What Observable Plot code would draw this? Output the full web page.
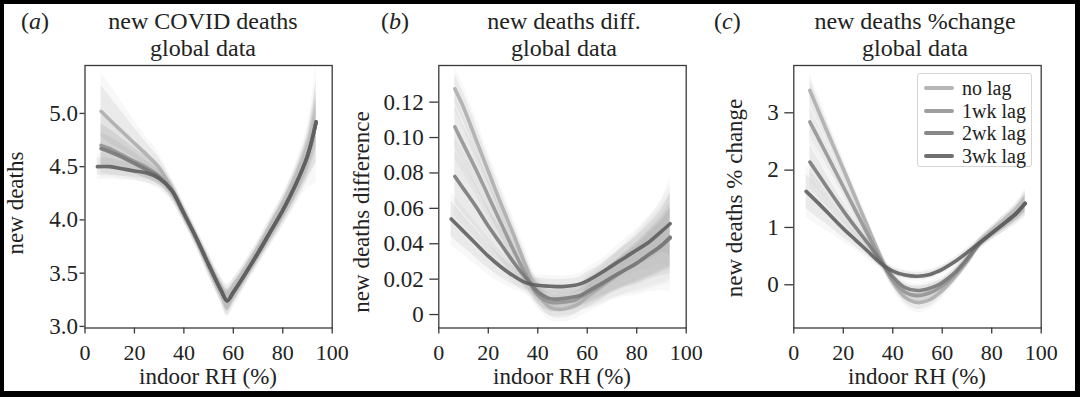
<!DOCTYPE html>
<html>
<head>
<meta charset="utf-8">
<script src="https://cdn.jsdelivr.net/npm/d3@7"></script>
<script src="https://cdn.jsdelivr.net/npm/@observablehq/plot@0.6"></script>
<style>
  html, body { margin: 0; padding: 0; background: #fff; }
  #wrap { position: relative; width: 1080px; height: 397px; background: #fff; overflow: hidden;
          font-family: 'Liberation Serif', 'Times New Roman', serif; color: #222; }
  .pane { position: absolute; top: 0; }
  .title { position: absolute; top: 8px; width: 320px; text-align: center; font-size: 24px; line-height: 27px; }
  .tag { position: absolute; top: 8px; font-size: 24px; line-height: 27px; }
  .xlab { position: absolute; top: 369px; width: 300px; text-align: center; font-size: 23px; line-height: 16px; }
  .ylab { position: absolute; width: 300px; text-align: center; font-size: 23px; line-height: 22px;
          transform: translate(-50%, -50%) rotate(-90deg); white-space: nowrap; }
  #legend { position: absolute; left: 917px; top: 73px; width: 115px; height: 94px; box-sizing: border-box;
            border: 1px solid #d4d4d4; border-radius: 3px; background: rgba(255,255,255,0.85); }
  .lrow { position: absolute; left: 0; height: 22px; width: 114px; }
  .lsw { position: absolute; left: 6px; top: 9px; width: 30px; height: 4px; border-radius: 2px; }
  .ltx { position: absolute; left: 44px; top: 0; font-size: 20px; line-height: 22px; white-space: nowrap; }
  #border { position: absolute; left: 0; top: 0; width: 1080px; height: 397px; box-sizing: border-box;
            border-style: solid; border-color: #000; border-width: 4px 5px 6px 4px; pointer-events: none; }
</style>
</head>
<body>
<div id="wrap"></div>
<script>
// ---------------- data ----------------
const lags = ["no lag", "1wk lag", "2wk lag", "3wk lag"];
const xTicks = [0, 20, 40, 60, 80, 100];
// indoor RH sample points (3wk lag series starts a little earlier)
const rh    = [6.5, 10, 15, 20, 25, 30, 35, 40, 45, 50, 55, 57.5, 60, 65, 70, 75, 80, 85, 90, 93.5];
const rh3wk = [5,   10, 15, 20, 25, 30, 35, 40, 45, 50, 55, 57.5, 60, 65, 70, 75, 80, 85, 90, 93.5];

// (a) new deaths
const aNoLag = [5.02, 4.94, 4.83, 4.72, 4.61, 4.49, 4.29, 4.07, 3.83, 3.58, 3.34, 3.25, 3.32, 3.50, 3.69, 3.89, 4.09, 4.32, 4.60, 4.92];
const a1wk   = [4.70, 4.67, 4.61, 4.55, 4.49, 4.41, 4.28, 4.06, 3.83, 3.58, 3.34, 3.24, 3.32, 3.50, 3.69, 3.89, 4.09, 4.32, 4.60, 4.92];
const a2wk   = [4.67, 4.64, 4.59, 4.53, 4.47, 4.40, 4.28, 4.06, 3.83, 3.58, 3.34, 3.24, 3.32, 3.50, 3.69, 3.89, 4.09, 4.32, 4.60, 4.92];
const a3wk   = [4.50, 4.50, 4.48, 4.46, 4.44, 4.39, 4.28, 4.06, 3.83, 3.58, 3.34, 3.24, 3.32, 3.50, 3.69, 3.89, 4.09, 4.32, 4.60, 4.92];
// band half-widths (a)
const aBandNoLag = [0.24, 0.22, 0.18, 0.14, 0.11, 0.09, 0.07, 0.06, 0.06, 0.07, 0.08, 0.10, 0.09, 0.08, 0.08, 0.09, 0.10, 0.13, 0.20, 0.38];
const aBand1wk   = [0.20, 0.18, 0.15, 0.12, 0.10, 0.08, 0.07, 0.06, 0.06, 0.07, 0.08, 0.10, 0.09, 0.08, 0.08, 0.09, 0.10, 0.12, 0.16, 0.26];
const aBand2wk   = [0.15, 0.14, 0.12, 0.10, 0.08, 0.07, 0.06, 0.06, 0.06, 0.07, 0.08, 0.09, 0.08, 0.07, 0.07, 0.08, 0.09, 0.11, 0.14, 0.20];
const aBand3wk   = [0.08, 0.08, 0.07, 0.06, 0.06, 0.05, 0.05, 0.05, 0.05, 0.06, 0.07, 0.08, 0.07, 0.06, 0.06, 0.07, 0.08, 0.10, 0.12, 0.15];

// (b) new deaths difference
const bNoLag = [0.1275, 0.117, 0.099, 0.081, 0.063, 0.046, 0.028, 0.012, 0.004, 0.003, 0.005, 0.007, 0.010, 0.015, 0.020, 0.025, 0.029, 0.034, 0.039, 0.043];
const b1wk   = [0.106, 0.096, 0.082, 0.067, 0.052, 0.037, 0.023, 0.011, 0.007, 0.007, 0.008, 0.010, 0.012, 0.016, 0.021, 0.025, 0.029, 0.034, 0.039, 0.0435];
const b2wk   = [0.078, 0.071, 0.061, 0.050, 0.040, 0.030, 0.021, 0.013, 0.009, 0.009, 0.010, 0.011, 0.013, 0.017, 0.021, 0.025, 0.029, 0.034, 0.039, 0.0437];
const b3wk   = [0.054, 0.047, 0.040, 0.033, 0.027, 0.022, 0.018, 0.0165, 0.016, 0.0158, 0.0165, 0.0175, 0.019, 0.023, 0.0275, 0.032, 0.0365, 0.041, 0.047, 0.0513];
const bBandNoLag = [0.008, 0.008, 0.008, 0.007, 0.007, 0.006, 0.006, 0.005, 0.005, 0.005, 0.005, 0.005, 0.006, 0.007, 0.008, 0.010, 0.012, 0.014, 0.017, 0.020];
const bBand1wk   = [0.012, 0.011, 0.010, 0.009, 0.008, 0.007, 0.006, 0.005, 0.005, 0.005, 0.005, 0.005, 0.006, 0.007, 0.008, 0.009, 0.011, 0.013, 0.015, 0.017];
const bBand2wk   = [0.015, 0.014, 0.012, 0.010, 0.009, 0.008, 0.006, 0.005, 0.005, 0.005, 0.005, 0.005, 0.006, 0.007, 0.008, 0.009, 0.010, 0.012, 0.014, 0.016];
const bBand3wk   = [0.010, 0.009, 0.008, 0.007, 0.006, 0.005, 0.004, 0.004, 0.004, 0.004, 0.004, 0.004, 0.005, 0.005, 0.006, 0.007, 0.008, 0.010, 0.012, 0.018];

// (c) new deaths % change
const cNoLag = [3.39, 3.03, 2.52, 2.02, 1.51, 1.00, 0.50, 0.05, -0.22, -0.31, -0.26, -0.19, -0.10, 0.13, 0.40, 0.71, 0.90, 1.07, 1.25, 1.42];
const c1wk   = [2.84, 2.55, 2.13, 1.71, 1.29, 0.87, 0.45, 0.08, -0.13, -0.19, -0.14, -0.09, -0.02, 0.18, 0.43, 0.71, 0.90, 1.07, 1.25, 1.42];
const c2wk   = [2.14, 1.92, 1.60, 1.29, 1.00, 0.72, 0.42, 0.14, -0.05, -0.10, -0.06, -0.02, 0.04, 0.21, 0.45, 0.72, 0.90, 1.07, 1.25, 1.42];
const c3wk   = [1.63, 1.42, 1.20, 0.98, 0.78, 0.58, 0.38, 0.24, 0.17, 0.15, 0.18, 0.22, 0.27, 0.40, 0.56, 0.73, 0.90, 1.07, 1.25, 1.42];
const cBandNoLag = [0.20, 0.18, 0.15, 0.13, 0.11, 0.10, 0.09, 0.09, 0.10, 0.12, 0.11, 0.10, 0.09, 0.08, 0.07, 0.07, 0.08, 0.10, 0.13, 0.17];
const cBand1wk   = [0.25, 0.22, 0.18, 0.15, 0.12, 0.10, 0.09, 0.08, 0.09, 0.10, 0.10, 0.09, 0.08, 0.07, 0.07, 0.07, 0.08, 0.10, 0.12, 0.15];
const cBand2wk   = [0.30, 0.26, 0.20, 0.16, 0.13, 0.10, 0.08, 0.08, 0.08, 0.08, 0.08, 0.08, 0.07, 0.07, 0.07, 0.07, 0.08, 0.09, 0.11, 0.14];
const cBand3wk   = [0.30, 0.26, 0.20, 0.16, 0.12, 0.09, 0.07, 0.06, 0.06, 0.06, 0.06, 0.06, 0.06, 0.06, 0.06, 0.07, 0.08, 0.09, 0.10, 0.12];

const aTicks = [3.0, 3.5, 4.0, 4.5, 5.0];
const bTicks = [0, 0.02, 0.04, 0.06, 0.08, 0.10, 0.12];
const cTicks = [0, 1, 2, 3];

// ---------------- styling ----------------
const lagColors = ["#acacac", "#929292", "#767676", "#5c5c5c"];
const FONT = "'Liberation Serif', 'Times New Roman', serif";

function buildRows(series, bands) {
  const rows = [];
  lags.forEach((lag, i) => {
    const xs = i === 3 ? rh3wk : rh;
    xs.forEach((x, j) => {
      const y = series[i][j], w = bands[i][j];
      rows.push({lag, x, y, lo: y - w, hi: y + w, lo2: y - 1.5 * w, hi2: y + 1.5 * w});
    });
  });
  return rows;
}

function panel({series, bands, yDomain, yTicks, yFormat, marginLeft, marginRight, ytickSize, ytickPadding}) {
  const rows = buildRows(series, bands);
  return Plot.plot({
    width: 360, height: 397,
    marginTop: 65, marginBottom: 69.5, marginLeft, marginRight,
    style: {fontFamily: FONT, fontSize: "23px", color: "#222", background: "transparent", overflow: "visible"},
    x: {domain: [0, 100]},
    y: {domain: yDomain},
    color: {domain: lags, range: lagColors},
    marks: [
      Plot.areaY(rows, {x: "x", y1: "lo2", y2: "hi2", z: "lag", fill: "#9a9a9a", fillOpacity: 0.07, curve: "catmull-rom"}),
      Plot.areaY(rows, {x: "x", y1: "lo", y2: "hi", z: "lag", fill: "#8a8a8a", fillOpacity: 0.13, curve: "catmull-rom"}),
      Plot.line(rows, {x: "x", y: "y", z: "lag", stroke: "lag", strokeWidth: 3.6, strokeOpacity: 0.88, curve: "catmull-rom"}),
      Plot.frame({stroke: "#3a3a3a", strokeWidth: 1.3}),
      Plot.axisX({ticks: xTicks, tickSize: 6, tickPadding: 10, fontSize: 22, label: null, stroke: "#3a3a3a", strokeWidth: 1.3}),
      Plot.axisY({ticks: yTicks, tickFormat: yFormat, tickSize: ytickSize, tickPadding: ytickPadding, label: null, stroke: "#3a3a3a", strokeWidth: 1.3})
    ]
  });
}

const wrap = document.getElementById("wrap");
function place(node, left) {
  const d = document.createElement("div");
  d.className = "pane";
  d.style.left = left + "px";
  d.appendChild(node);
  wrap.appendChild(d);
}

place(panel({
  series: [aNoLag, a1wk, a2wk, a3wk], bands: [aBandNoLag, aBand1wk, aBand2wk, aBand3wk],
  yDomain: [2.985, 5.45], yTicks: aTicks, yFormat: d3.format(".1f"),
  marginLeft: 84.5, marginRight: 28.3, ytickSize: 5, ytickPadding: 2
}), 0);

place(panel({
  series: [bNoLag, b1wk, b2wk, b3wk], bands: [bBandNoLag, bBand1wk, bBand2wk, bBand3wk],
  yDomain: [-0.0076, 0.1407], yTicks: bTicks, yFormat: d => d === 0 ? "0" : d3.format(".2f")(d),
  marginLeft: 78.3, marginRight: 34.3, ytickSize: 9, ytickPadding: 6
}), 360);

place(panel({
  series: [cNoLag, c1wk, c2wk, c3wk], bands: [cBandNoLag, cBand1wk, cBand2wk, cBand3wk],
  yDomain: [-0.754, 3.825], yTicks: cTicks, yFormat: d3.format("d"),
  marginLeft: 73.3, marginRight: 39.3, ytickSize: 9, ytickPadding: 6
}), 720);

// ---------------- text ----------------
function addDiv(cls, html, style) {
  const d = document.createElement("div");
  d.className = cls;
  d.innerHTML = html;
  Object.assign(d.style, style);
  wrap.appendChild(d);
  return d;
}
addDiv("tag", "(<i>a</i>)", {left: "21px"});
addDiv("tag", "(<i>b</i>)", {left: "381px"});
addDiv("tag", "(<i>c</i>)", {left: "714px"});
addDiv("title", "new COVID deaths<br>global data", {left: (203 - 160) + "px"});
addDiv("title", "new deaths diff.<br>global data", {left: (564 - 160) + "px"});
addDiv("title", "new deaths %change<br>global data", {left: (915 - 160) + "px"});
addDiv("xlab", "indoor RH (%)", {left: (208 - 150) + "px"});
addDiv("xlab", "indoor RH (%)", {left: (562 - 150) + "px"});
addDiv("xlab", "indoor RH (%)", {left: (917 - 150) + "px"});
addDiv("ylab", "new deaths", {left: "16px", top: "203px"});
addDiv("ylab", "new deaths difference", {left: "362px", top: "212px"});
addDiv("ylab", "new deaths % change", {left: "735px", top: "198px"});

// legend
const legend = document.createElement("div");
legend.id = "legend";
lags.forEach((lag, i) => {
  const row = document.createElement("div");
  row.className = "lrow";
  row.style.top = (3 + i * 22.5) + "px";
  const sw = document.createElement("div");
  sw.className = "lsw";
  sw.style.background = lagColors[i];
  sw.style.opacity = 0.88;
  const tx = document.createElement("div");
  tx.className = "ltx";
  tx.textContent = lag;
  row.appendChild(sw); row.appendChild(tx);
  legend.appendChild(row);
});
wrap.appendChild(legend);

const border = document.createElement("div");
border.id = "border";
wrap.appendChild(border);
</script>
</body>
</html>
